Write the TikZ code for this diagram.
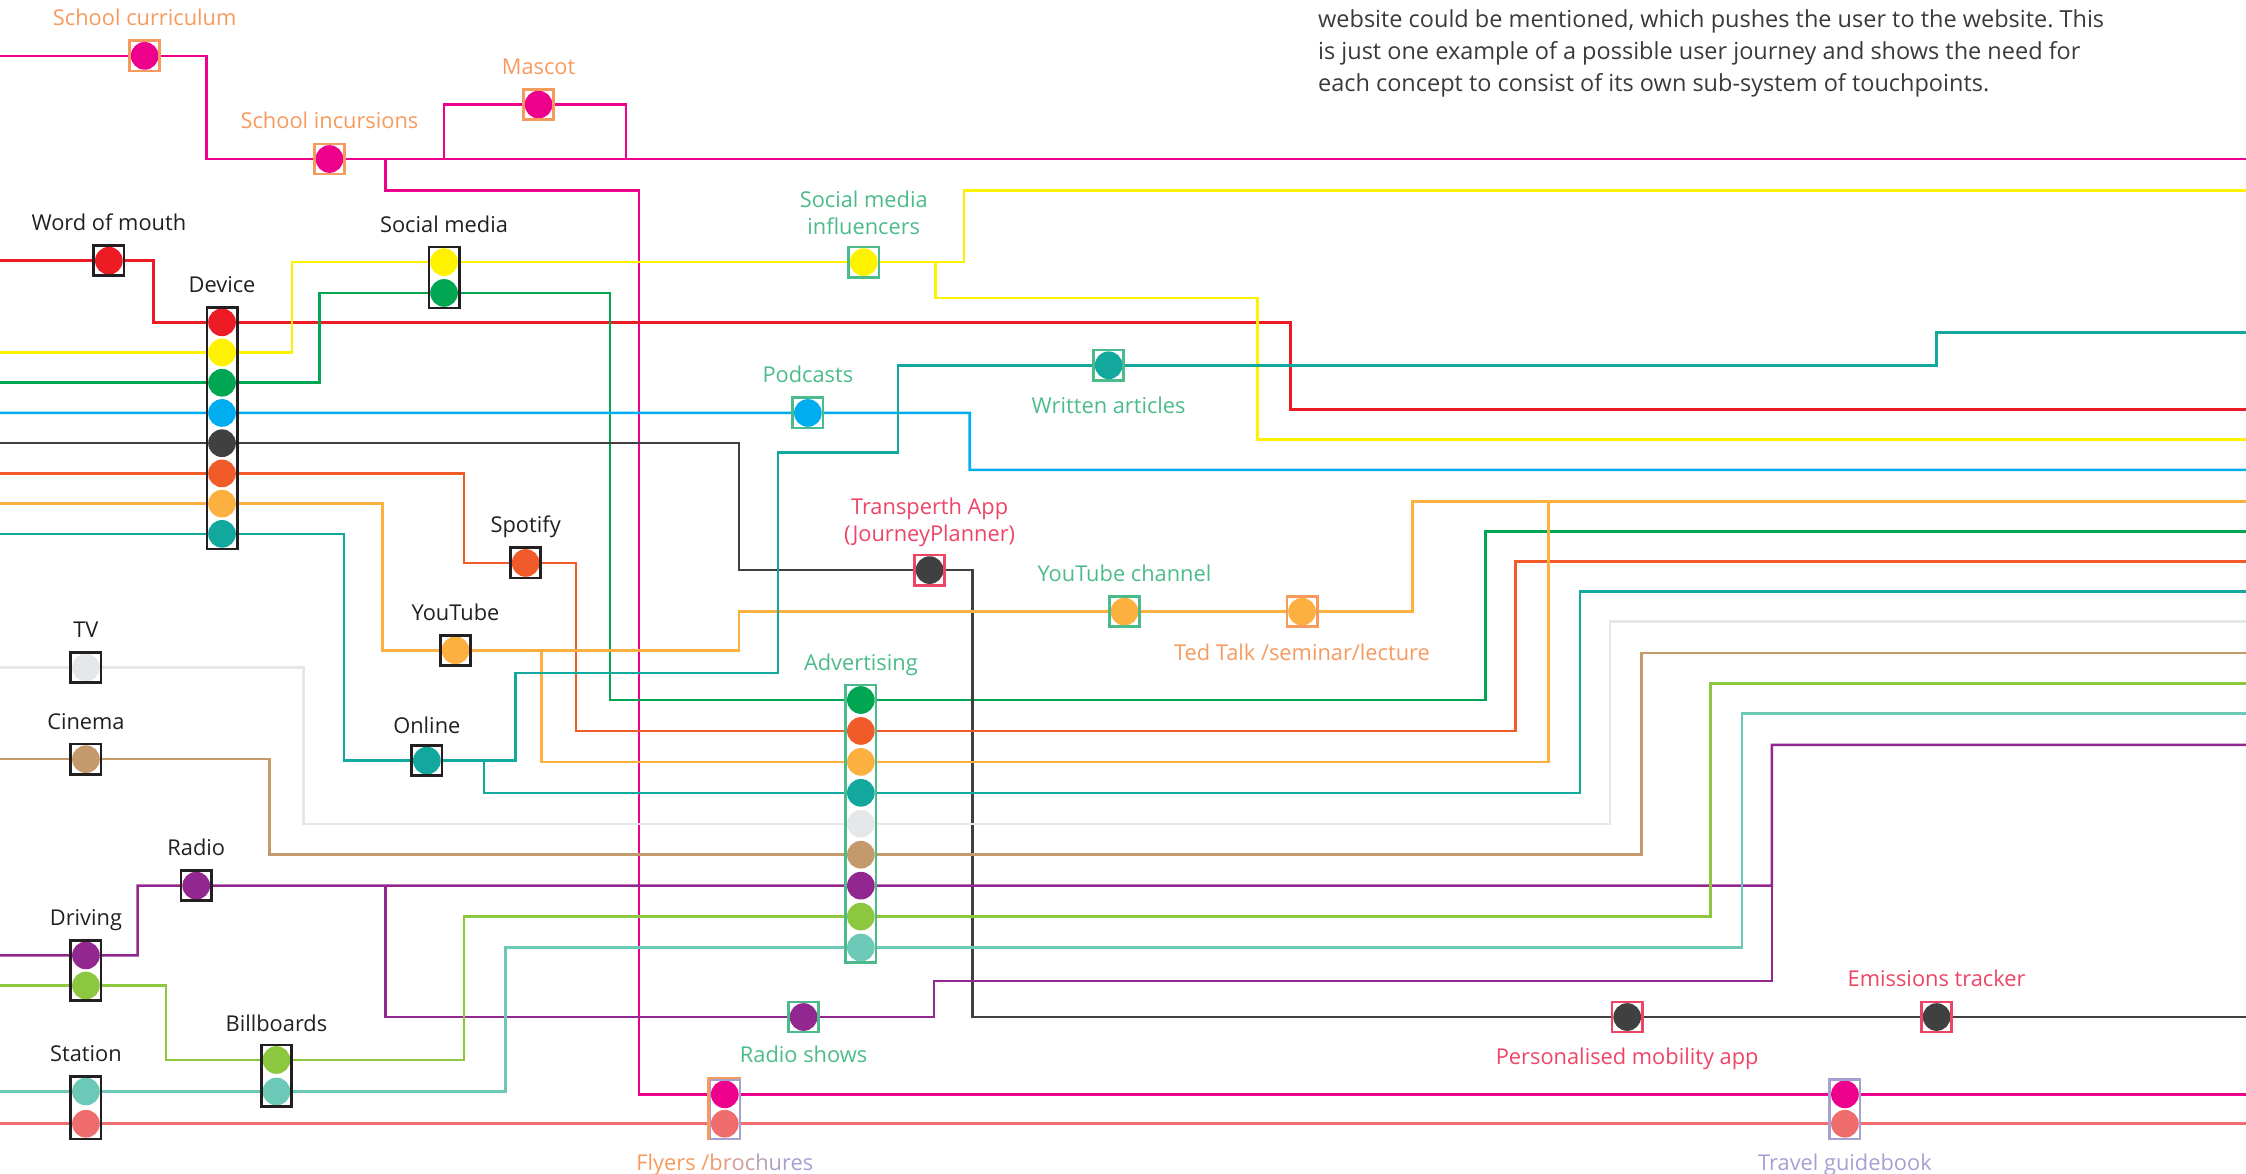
\documentclass[tikz,border=0pt]{standalone}
\usepackage{fontspec}
\setmainfont{Open Sans}
\usetikzlibrary{fit}

% line colours
\definecolor{lnpink}{HTML}{EC008C}
\definecolor{lnred}{HTML}{ED1C24}
\definecolor{lnyel}{HTML}{FFF200}
\definecolor{lngrn}{HTML}{00A651}
\definecolor{lnblu}{HTML}{00AEEF}
\definecolor{lndrk}{HTML}{404041}
\definecolor{lnver}{HTML}{F15A29}
\definecolor{lnorg}{HTML}{FBB040}
\definecolor{lntea}{HTML}{12A89D}
\definecolor{lngry}{HTML}{E6E7E8}
\definecolor{lntan}{HTML}{C49A6C}
\definecolor{lnpur}{HTML}{92278F}
\definecolor{lnlim}{HTML}{8DC63F}
\definecolor{lnmnt}{HTML}{6CC9B7}
\definecolor{lnsal}{HTML}{F06D6D}
% box and label colours
\definecolor{bxblk}{HTML}{231F20}
\definecolor{bxorg}{HTML}{F79A5E}
\definecolor{bxgrn}{HTML}{4CBB8B}
\definecolor{bxred}{HTML}{EE4466}
\definecolor{bxlav}{HTML}{A6A0D2}
\definecolor{txgry}{HTML}{3A3A3A}

\newcommand{\lblfont}{\fontsize{13}{16.2}\selectfont}
\newcommand{\notefont}{\fontsize{14}{19.1}\selectfont\frenchspacing}

\pgfdeclarelayer{lines}
\pgfsetlayers{lines,main}

\tikzset{
  ln/.style={draw=#1,line width=1.5pt},
  dot/.style={circle,fill=#1,inner sep=0pt,minimum size=5.8mm},
  box/.style={draw=#1,line width=1.6pt,inner sep=0.2mm},
  lbl/.style={text=#1,anchor=base,inner sep=0pt,font=\lblfont},
}

\begin{document}
\begin{tikzpicture}[x=0.3mm,y=-0.3mm]
  \def\xmax{1568} \def\ymax{819}
  \useasboundingbox (0,0) rectangle (\xmax,\ymax);

  % ends of the lines at both edges
  \coordinate (W) at (0,0);
  \coordinate (pinkE) at (\xmax,111);  \coordinate (pinkS) at (\xmax,764);
  \coordinate (redE) at (\xmax,286);   \coordinate (yelN) at (\xmax,133);
  \coordinate (yelS) at (\xmax,307);   \coordinate (grnE) at (\xmax,371);
  \coordinate (bluE) at (\xmax,328);   \coordinate (drkE) at (\xmax,710);
  \coordinate (verE) at (\xmax,392);   \coordinate (orgE) at (\xmax,350);
  \coordinate (teaE) at (\xmax,232);   \coordinate (teaF) at (\xmax,413);
  \coordinate (gryE) at (\xmax,434);   \coordinate (tanE) at (\xmax,456);
  \coordinate (purE) at (\xmax,520);   \coordinate (limE) at (\xmax,477);
  \coordinate (mntE) at (\xmax,498);   \coordinate (salE) at (\xmax,784.5);
  % junctions
  \coordinate (masA) at (310,111);  \coordinate (masB) at (437,111);
  \coordinate (incJ) at (269,111);  \coordinate (infJ) at (653,183);
  \coordinate (ytJ) at (378,454);   \coordinate (orgJ) at (1081,350);
  \coordinate (onlJ) at (338,531);  \coordinate (radJ) at (269,618.3);
  \coordinate (purJ) at (1237,618.3);

  % single stops
  \node[dot=lnpink] (cur) at (101,39) {};
  \node[dot=lnpink] (inc) at (230,111) {};
  \node[dot=lnpink] (mas) at (376,73) {};
  \node[dot=lnred] (wom) at (76,182) {};
  \node[dot=lnyel] (inf) at (603,183) {};
  \node[dot=lnblu] (pod) at (564,288.3) {};
  \node[dot=lntea] (art) at (774,255) {};
  \node[dot=lndrk] (tra) at (649,398) {};
  \node[dot=lnorg] (ytc) at (785,427) {};
  \node[dot=lnorg] (ted) at (909,427) {};
  \node[dot=lnver] (spo) at (367,393) {};
  \node[dot=lnorg] (yt) at (318,454) {};
  \node[dot=lngry] (tv) at (60,466) {};
  \node[dot=lntan] (cin) at (60,530) {};
  \node[dot=lntea] (onl) at (298,531) {};
  \node[dot=lnpur] (rad) at (137,618.3) {};
  \node[dot=lnpur] (rsh) at (561,710) {};
  \node[dot=lndrk] (pma) at (1136,710) {};
  \node[dot=lndrk] (emi) at (1352,710) {};

  % stacked stops
  \foreach \col [count=\i] in {lnred,lnyel,lngrn,lnblu,lndrk,lnver,lnorg,lntea}
    \node[dot=\col] (dev\i) at (155,{225+21.1*(\i-1)}) {};
  \foreach \col [count=\i] in {lngrn,lnver,lnorg,lntea,lngry,lntan,lnpur,lnlim,lnmnt}
    \node[dot=\col] (adv\i) at (601,{488.7+21.6*(\i-1)}) {};
  \node[dot=lnyel] (soc1) at (310,183) {};   \node[dot=lngrn] (soc2) at (310,204.5) {};
  \node[dot=lnpur] (drv1) at (60,667) {};    \node[dot=lnlim] (drv2) at (60,688) {};
  \node[dot=lnlim] (bil1) at (193,740) {};   \node[dot=lnmnt] (bil2) at (193,762) {};
  \node[dot=lnmnt] (sta1) at (60,762) {};    \node[dot=lnsal] (sta2) at (60,784.5) {};
  \node[dot=lnpink] (fly1) at (506,764) {};  \node[dot=lnsal] (fly2) at (506,784.5) {};
  \node[dot=lnpink] (tgb1) at (1288,764) {}; \node[dot=lnsal] (tgb2) at (1288,784.5) {};

  % boxes
  \node[box=bxorg,fit=(cur)] (curbox) {};
  \node[box=bxorg,fit=(inc)] (incbox) {};
  \node[box=bxorg,fit=(mas)] (masbox) {};
  \node[box=bxorg,fit=(ted)] (tedbox) {};
  \node[box=bxblk,fit=(wom)] (wombox) {};
  \node[box=bxblk,fit=(dev1)(dev8)] (devbox) {};
  \node[box=bxblk,fit=(soc1)(soc2)] (socbox) {};
  \node[box=bxblk,fit=(spo)] (spobox) {};
  \node[box=bxblk,fit=(yt)] (ytbox) {};
  \node[box=bxblk,fit=(tv)] (tvbox) {};
  \node[box=bxblk,fit=(cin)] (cinbox) {};
  \node[box=bxblk,fit=(onl)] (onlbox) {};
  \node[box=bxblk,fit=(rad)] (radbox) {};
  \node[box=bxblk,fit=(drv1)(drv2)] (drvbox) {};
  \node[box=bxblk,fit=(bil1)(bil2)] (bilbox) {};
  \node[box=bxblk,fit=(sta1)(sta2)] (stabox) {};
  \node[box=bxgrn,fit=(inf)] (infbox) {};
  \node[box=bxgrn,fit=(pod)] (podbox) {};
  \node[box=bxgrn,fit=(art)] (artbox) {};
  \node[box=bxgrn,fit=(ytc)] (ytcbox) {};
  \node[box=bxgrn,fit=(adv1)(adv9)] (advbox) {};
  \node[box=bxgrn,fit=(rsh)] (rshbox) {};
  \node[box=bxred,fit=(tra)] (trabox) {};
  \node[box=bxred,fit=(pma)] (pmabox) {};
  \node[box=bxred,fit=(emi)] (emibox) {};
  \node[box=bxlav,fit=(tgb1)(tgb2)] (tgbbox) {};
  \node[box=bxlav,fit=(fly1)(fly2)] (flybox) {};
  \draw[bxorg,line width=1.6pt] (flybox.south west) -- (flybox.north west) -- (flybox.north east);

  % labels
  \node[lbl=bxorg] (lbcur) at (101,18) {School curriculum};
  \node[lbl=bxorg] (lbmas) at (376,52) {Mascot};
  \node[lbl=bxorg] (lbinc) at (230,90) {School incursions};
  \node[lbl=bxblk] (lbwom) at (76,161) {Word of mouth};
  \node[lbl=bxblk] (lbsoc) at (310,162) {Social media};
  \node[lbl=bxblk] (lbdev) at (155,204) {Device};
  \node[lbl=bxgrn] (lbinf) at (603,145) {\begin{tabular}[t]{@{}c@{}}Social media\\influencers\end{tabular}};
  \node[lbl=bxgrn] (lbpod) at (564,267) {Podcasts};
  \node[lbl=bxgrn] (lbart) at (774,289) {Written articles};
  \node[lbl=bxred] (lbtra) at (649,359) {\begin{tabular}[t]{@{}c@{}}Transperth App\\(JourneyPlanner)\end{tabular}};
  \node[lbl=bxgrn] (lbytc) at (785,406) {YouTube channel};
  \node[lbl=bxorg] (lbted) at (909,461) {Ted Talk /seminar/lecture};
  \node[lbl=bxblk] (lbspo) at (367,372) {Spotify};
  \node[lbl=bxblk] (lbyt) at (318,433) {YouTube};
  \node[lbl=bxblk] (lbtv) at (60,445) {TV};
  \node[lbl=bxblk] (lbonl) at (298,512) {Online};
  \node[lbl=bxblk] (lbcin) at (60,509) {Cinema};
  \node[lbl=bxgrn] (lbadv) at (601,468) {Advertising};
  \node[lbl=bxblk] (lbrad) at (137,597) {Radio};
  \node[lbl=bxblk] (lbdrv) at (60,646) {Driving};
  \node[lbl=bxblk] (lbbil) at (193,720) {Billboards};
  \node[lbl=bxblk] (lbsta) at (60,741) {Station};
  \node[lbl=bxgrn] (lbrsh) at (561,742) {Radio shows};
  \node[lbl=bxred] (lbpma) at (1136,743) {Personalised mobility app};
  \node[lbl=bxred] (lbemi) at (1352,689) {Emissions tracker};
  \node[lbl=bxorg] (lbfly) at (506,817) {Flyers /\textcolor{bxorg!85!bxlav}{b}\textcolor{bxorg!70!bxlav}{r}\textcolor{bxorg!55!bxlav}{o}\textcolor{bxorg!40!bxlav}{c}\textcolor{bxorg!25!bxlav}{h}\textcolor{bxorg!10!bxlav}{u}\textcolor{bxlav}{res}};
  \node[lbl=bxlav] (lbtgb) at (1288,817) {Travel guidebook};

  \node[anchor=base west,inner sep=0pt,text=txgry,font=\notefont] (note) at (920,19)
    {\begin{tabular}[t]{@{}l@{}}website could be mentioned, which pushes the user to the website. This\\
     is just one example of a possible user journey and shows the need for\\
     each concept to consist of its own sub-system of touchpoints.\end{tabular}};

  % the lines, under the stops
  \begin{pgfonlayer}{lines}
    \draw[ln=lnpink] (cur -| W) -- (cur) -- ++(43,0) |- (inc) -- (pinkE);
    \draw[ln=lnpink] (masA) |- (mas) -| (masB);
    \draw[ln=lnpink] (incJ) |- ++(177,22) |- (fly1) -- (tgb1) -- (pinkS);
    \draw[ln=lnred] (wom -| W) -- (wom) -- ++(31,0) |- (dev1) -- ++(746,0) |- (redE);
    \draw[ln=lnyel] (dev2 -| W) -- (dev2) -- ++(49,0) |- (soc1) -- (inf) -- ++(70,0) |- (yelN);
    \draw[ln=lnyel] (infJ) |- ++(225,25) |- (yelS);
    \draw[ln=lngrn] (dev3 -| W) -- (dev3) -- ++(68,0) |- (soc2) -- ++(116,0) |- (adv1) -- ++(436,0) |- (grnE);
    \draw[ln=lnblu] (dev4 -| W) -- (dev4) -- (pod) -- ++(113,0) |- (bluE);
    \draw[ln=lndrk] (dev5 -| W) -- (dev5) -- ++(361,0) |- (tra) -- ++(30,0) |- (pma) -- (emi) -- (drkE);
    \draw[ln=lnver] (dev6 -| W) -- (dev6) -- ++(169,0) |- (spo) -- ++(35,0) |- (adv2) -- ++(457,0) |- (verE);
    \draw[ln=lnorg] (dev7 -| W) -- (dev7) -- ++(112,0) |- (yt) -- ++(198,0) |- (ytc) -- (ted) -- ++(77,0) |- (orgE);
    \draw[ln=lnorg] (ytJ) |- (adv3) -- ++(480,0) |- (orgJ);
    \draw[ln=lntea] (dev8 -| W) -- (dev8) -- ++(85,0) |- (onl) -- ++(62,0) |- ++(183,-61) |- ++(84,-154) |- (art) -- ++(578,0) |- (teaE);
    \draw[ln=lntea] (onlJ) |- (adv4) -- ++(502,0) |- (teaF);
    \draw[ln=lngry] (tv -| W) -- (tv) -- ++(152,0) |- (adv5) -- ++(523,0) |- (gryE);
    \draw[ln=lntan] (cin -| W) -- (cin) -- ++(128,0) |- (adv6) -- ++(545,0) |- (tanE);
    \draw[ln=lnpur] (drv1 -| W) -- (drv1) -- ++(36,0) |- (rad) -- (adv7) -- ++(636,0) |- (purE);
    \draw[ln=lnpur] (radJ) |- (rsh) -- ++(91,0) |- ++(585,-25) -- (purJ);
    \draw[ln=lnlim] (drv2 -| W) -- (drv2) -- ++(56,0) |- (bil1) -- ++(131,0) |- (adv8) -- ++(593,0) |- (limE);
    \draw[ln=lnmnt] (sta1 -| W) -- (sta1) -- (bil2) -- ++(160,0) |- (adv9) -- ++(615,0) |- (mntE);
    \draw[ln=lnsal] (sta2 -| W) -- (sta2) -- (fly2) -- (tgb2) -- (salE);
  \end{pgfonlayer}
\end{tikzpicture}
\end{document}
